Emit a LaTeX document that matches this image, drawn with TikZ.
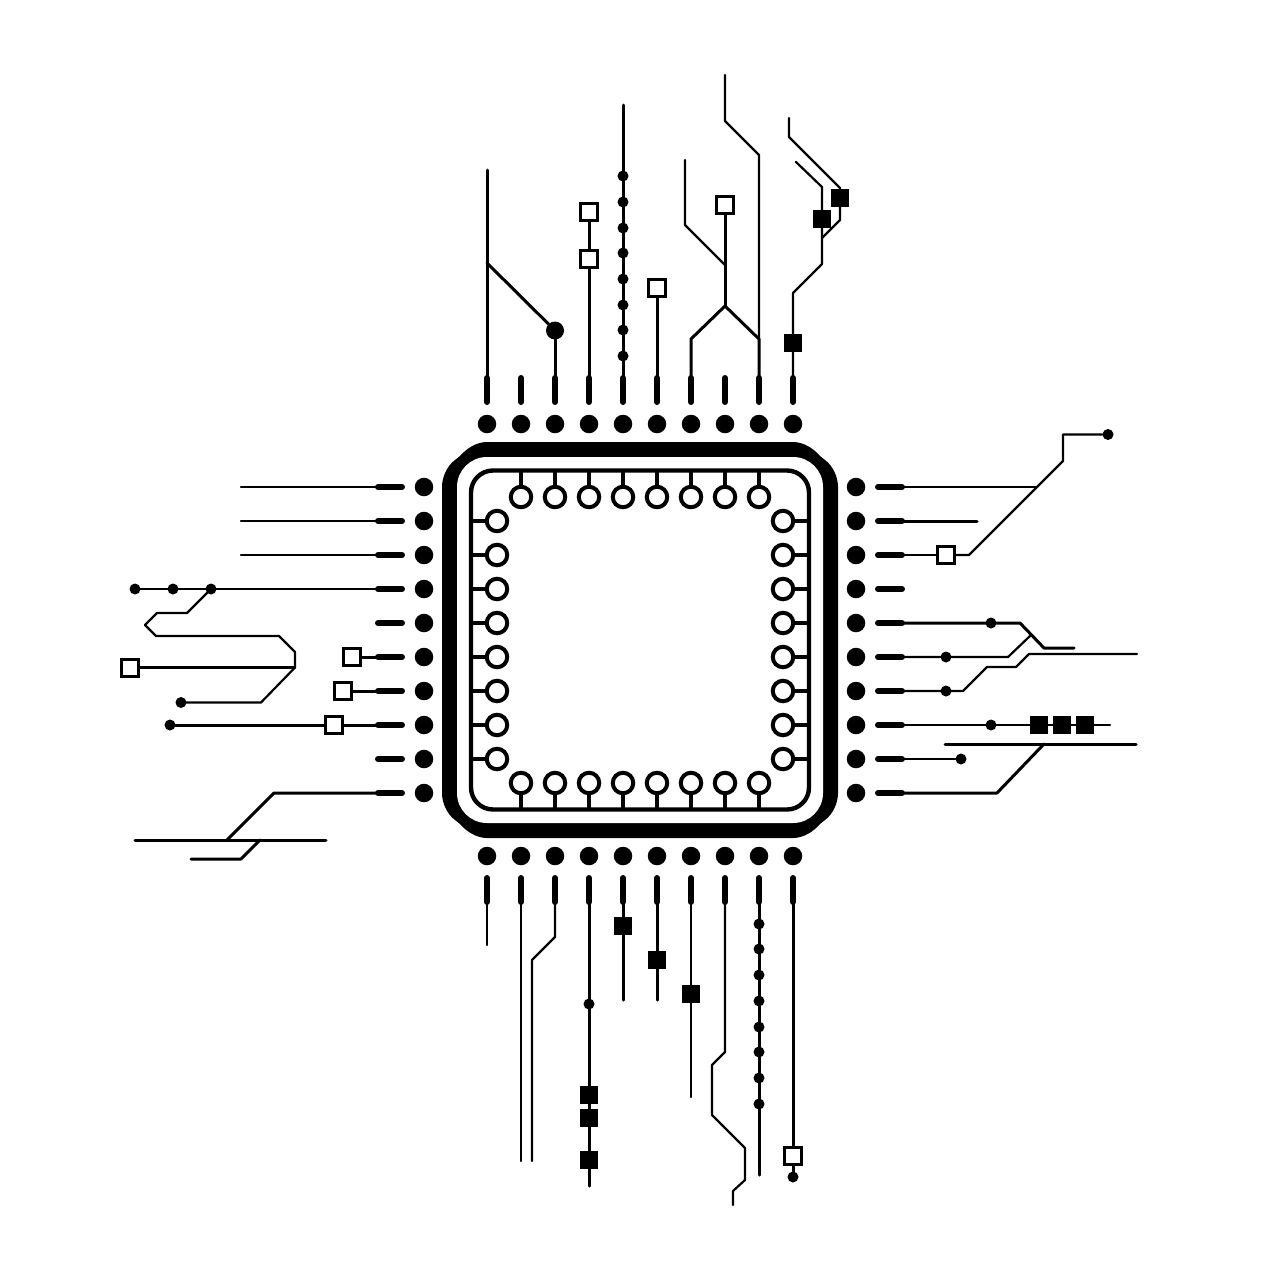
\documentclass[tikz,border=0pt]{standalone}
\tikzset{
  pad/.style={circle,fill=black,inner sep=0pt,minimum size=18.5pt},
  via/.style={circle,fill=black,inner sep=0pt,minimum size=#1},
  via/.default=11pt,
  ring/.style={circle,draw=black,fill=white,line width=4pt,inner sep=0pt,minimum size=20.5pt},
  whitebox/.style={rectangle,draw=black,fill=white,line width=3pt,inner sep=0pt,minimum size=17pt},
  blackbox/.style={rectangle,fill=black,inner sep=0pt,minimum size=18pt},
  pin/.style={line width=6pt,line cap=round},
  thick trace/.style={line width=3pt,line cap=round,line join=round},
  thin trace/.style={line width=2.2pt,line cap=round,line join=round},
  frame line/.style={line width=4.4pt,rounded corners=22pt}
}
\begin{document}
\begin{tikzpicture}[x=1pt,y=-1pt]
\useasboundingbox (0,0) rectangle (1280,1280);
\fill[white] (0,0) rectangle (1280,1280);

% chip body
\fill[black] (442,487) .. controls (442,477) and (447,466) .. (455,460) -- (460,456)
  .. controls (466,449) and (476,442) .. (487,442) -- (793,442)
  .. controls (804,442) and (814,449) .. (820,456) -- (825,460)
  .. controls (833,466) and (838,477) .. (838,487) -- (838,793)
  .. controls (838,803) and (833,814) .. (825,820) -- (820,824)
  .. controls (814,831) and (804,838) .. (793,838) -- (487,838)
  .. controls (476,838) and (466,831) .. (460,824) -- (455,820)
  .. controls (447,814) and (442,803) .. (442,793) -- cycle;
\fill[white,rounded corners=30pt] (457,457) rectangle (823,823);
\draw[frame line] (471,470.5) rectangle (809,809.5);

% rings with their leads
\foreach \i/\p in {1/521,2/555,3/589,4/623,5/657,6/691,7/725,8/759}{
  \coordinate (ta\i) at (\p,471);
  \coordinate (ba\i) at (\p,809);
  \coordinate (la\i) at (471,\p);
  \coordinate (ra\i) at (809,\p);
  \node[ring] (tr\i) at (\p,497) {};
  \node[ring] (br\i) at (\p,783) {};
  \node[ring] (lr\i) at (497,\p) {};
  \node[ring] (rr\i) at (783,\p) {};
  \draw[line width=4pt] (ta\i) -- (tr\i);
  \draw[line width=4pt] (ba\i) -- (br\i);
  \draw[line width=4pt] (la\i) -- (lr\i);
  \draw[line width=4pt] (ra\i) -- (rr\i);
}

% pads and pins
\foreach \i/\p in {1/487,2/521,3/555,4/589,5/623,6/657,7/691,8/725,9/759,10/793}{
  \node[pad] (tp\i) at (\p,424) {};
  \node[pad] (bp\i) at (\p,856) {};
  \coordinate (t\i) at (\p,378);
  \coordinate (ti\i) at (\p,402);
  \coordinate (b\i) at (\p,902);
  \coordinate (bi\i) at (\p,878);
  \draw[pin] (t\i) -- (ti\i);
  \draw[pin] (b\i) -- (bi\i);
}
\foreach \i/\p in {1/487,2/521,3/555,4/589,5/623,6/657,7/691,8/725,9/759,10/793}{
  \node[pad] (lp\i) at (424,\p) {};
  \node[pad] (rp\i) at (856,\p) {};
  \coordinate (l\i) at (378,\p);
  \coordinate (li\i) at (402,\p);
  \coordinate (r\i) at (902,\p);
  \coordinate (ri\i) at (878,\p);
  \draw[pin] (l\i) -- (li\i);
  \draw[pin] (r\i) -- (ri\i);
}

% ---------- TOP ----------
\coordinate (t1end) at (487,170);
\coordinate (t1j) at (487,263);
\node[via=18pt] (t3dot) at (555,330.5) {};
\draw[thick trace] (t1) -- (t1end);
\draw[thick trace] (t1j) -- (t3dot);
\draw[thick trace] (t3) -- (t3dot);

\node[whitebox] (t4a) at (589,259) {};
\node[whitebox] (t4b) at (589,212) {};
\draw[thick trace] (t4) -- (t4a);
\draw[thick trace] (t4a) -- (t4b);

\coordinate (t5end) at (623,105);
\draw[thick trace] (t5) -- (t5end);
\foreach \i/\y in {1/176,2/202,3/228,4/253,5/279,6/305,7/330,8/356}
  \node[via] (t5d\i) at (623,\y) {};

\node[whitebox] (t6a) at (657,288) {};
\draw[thick trace] (t6) -- (t6a);

\coordinate (tsplit) at (725,306);
\coordinate (t7b) at (691,339);
\coordinate (t9b) at (759,339);
\coordinate (t7j) at (725,265);
\coordinate (t7end) at (685,160);
\coordinate (t9end) at (725,75);
\node[whitebox] (t7a) at (725,205) {};
\draw[thick trace] (t7) -- (t7b) -- (tsplit) -- (t9b) -- (t9);
\draw[thick trace] (tsplit) -- (t7a);
\draw[thin trace] (t7j) -- (685,225) -- (t7end);
\draw[thin trace] (t9b) -- (759,155) -- (725,121) -- (t9end);

\coordinate (t10end) at (796,162);
\coordinate (t10j) at (822,238);
\coordinate (t10e) at (789,118);
\node[blackbox] (t10a) at (793,343) {};
\node[blackbox] (t10b) at (822,218.5) {};
\node[blackbox] (t10c) at (840,197.5) {};
\draw[thin trace] (t10) -- (793,293) -- (822,264) -- (822,187) -- (t10end);
\draw[thin trace] (t10e) -- (789,137) -- (840,188) -- (840,220) -- (t10j);

% ---------- LEFT ----------
\coordinate (l1end) at (241,487);
\coordinate (l2end) at (241,521);
\coordinate (l3end) at (241,555);
\draw[thin trace] (l1) -- (l1end);
\draw[thin trace] (l2) -- (l2end);
\draw[thin trace] (l3) -- (l3end);

\node[via] (l4a) at (135,589) {};
\node[via] (l4b) at (173,589) {};
\node[via] (l4c) at (211,589) {};
\draw[thin trace] (l4) -- (l4a.center);
\coordinate (lbend) at (295,667.5);
\node[via] (l4end) at (181,702.5) {};
\node[whitebox] (l4box) at (130,667.5) {};
\draw[thin trace] (l4c.center) -- (187,613) -- (157,613) -- (145,625) -- (156,636) -- (279,636) -- (295,652) -- (lbend) -- (261,702.5) -- (l4end.center);
\draw[thin trace] (l4box) -- (lbend);

\node[whitebox] (l6a) at (351.5,657) {};
\node[whitebox] (l7a) at (343,691) {};
\node[whitebox] (l8a) at (334,725) {};
\node[via] (l8d) at (170,725) {};
\draw[thick trace] (l6) -- (l6a);
\draw[thick trace] (l7) -- (l7a);
\draw[thick trace] (l8) -- (l8a);
\draw[thick trace] (l8a) -- (l8d);

\coordinate (lbarL) at (135,840);
\coordinate (lbarR) at (326,840);
\coordinate (lbarJ) at (227,840);
\coordinate (lbarK) at (260,840);
\coordinate (l11end) at (191,859);
\draw[thick trace] (l10) -- (274,793) -- (lbarJ);
\draw[thick trace] (lbarL) -- (lbarR);
\draw[thick trace] (lbarK) -- (241,859) -- (l11end);

% ---------- RIGHT ----------
\coordinate (r1j) at (1036,487);
\node[via] (r1d) at (1108,434.5) {};
\node[whitebox] (r3a) at (946,555) {};
\draw[thin trace] (r1) -- (r1j);
\draw[thin trace] (r3a) -- (969,555) -- (1063,461) -- (1063,434.5) -- (r1d);
\draw[thin trace] (r3) -- (r3a);

\coordinate (r2end) at (977,521);
\draw[thick trace] (r2) -- (r2end);

\node[via] (r5d) at (991,623) {};
\coordinate (r5end) at (1074,648);
\draw[thick trace] (r5) -- (1020,623) -- (1044,648) -- (r5end);

\node[via] (r6d) at (946,657) {};
\coordinate (r6end) at (1030,636);
\draw[thin trace] (r6) -- (1008,657) -- (r6end);

\node[via] (r7d) at (946,691) {};
\coordinate (r7end) at (1137,654);
\draw[thin trace] (r7) -- (963,691) -- (987,667) -- (1016,667) -- (1029,654) -- (r7end);

\coordinate (r8end) at (1110,725);
\draw[thin trace] (r8) -- (r8end);
\node[via] (r8d) at (991,725) {};
\node[blackbox] (r8a) at (1038.5,725) {};
\node[blackbox] (r8b) at (1062,725) {};
\node[blackbox] (r8c) at (1085,725) {};

\node[via] (r9d) at (961,759) {};
\draw[thin trace] (r9) -- (r9d);

\coordinate (rbarL) at (945,744);
\coordinate (rbarR) at (1136,744);
\coordinate (rbarJ) at (1044,744);
\draw[thick trace] (r10) -- (997,793) -- (rbarJ);
\draw[thick trace] (rbarL) -- (rbarR);

% ---------- BOTTOM ----------
\coordinate (b1end) at (487,945);
\coordinate (b2end) at (521,1161);
\coordinate (b3end) at (532,1161);
\draw[thin trace] (b1) -- (b1end);
\draw[thin trace] (b2) -- (b2end);
\draw[thin trace] (b3) -- (555,937) -- (532,960) -- (b3end);

\coordinate (b4end) at (589,1186);
\draw[thick trace] (b4) -- (b4end);
\node[via] (b4d) at (589,1004) {};
\node[blackbox] (b4a) at (589,1095) {};
\node[blackbox] (b4b) at (589,1118) {};
\node[blackbox] (b4c) at (589,1160) {};

\coordinate (b5end) at (623,1000);
\draw[thick trace] (b5) -- (b5end);
\node[blackbox] (b5a) at (623,926) {};

\coordinate (b6end) at (657,1000);
\draw[thick trace] (b6) -- (b6end);
\node[blackbox] (b6a) at (657,960) {};

\coordinate (b7end) at (691,1097);
\draw[thin trace] (b7) -- (b7end);
\node[blackbox] (b7a) at (691,994) {};

\coordinate (b8end) at (733,1205);
\draw[thin trace] (b8) -- (725,1052) -- (712,1065) -- (712,1115) -- (745,1148) -- (745,1180) -- (733,1191) -- (b8end);

\coordinate (b9end) at (759,1175);
\draw[thick trace] (b9) -- (b9end);
\foreach \i/\y in {1/924,2/949,3/975,4/1001,5/1027,6/1052,7/1078,8/1104}
  \node[via] (b9d\i) at (759,\y) {};

\node[whitebox] (b10a) at (793,1156) {};
\node[via] (b10d) at (793,1177) {};
\draw[thick trace] (b10) -- (b10a);
\draw[thick trace] (b10a) -- (b10d);
\end{tikzpicture}
\end{document}
